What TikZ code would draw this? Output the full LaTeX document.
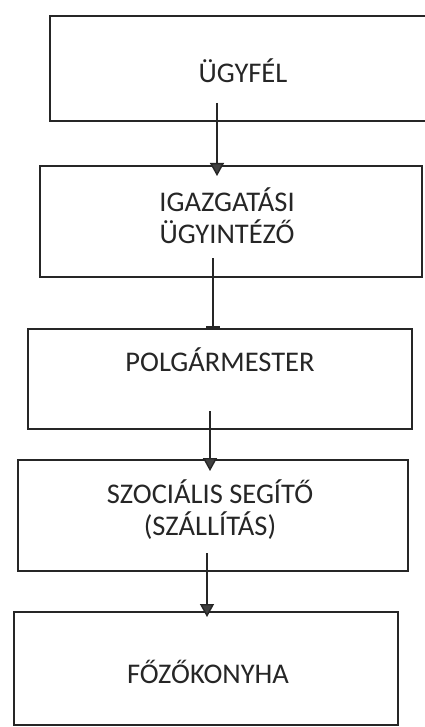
\documentclass[tikz,border=0pt]{standalone}
\usepackage{fontspec}
\setmainfont{Carlito}
\usetikzlibrary{arrows.meta,calc}
\definecolor{ink}{HTML}{262626}
\definecolor{tipc}{HTML}{404040}
\begin{document}
\begin{tikzpicture}[x=1pt,y=-1pt,
  box/.style={draw=ink,line width=1.8pt,rectangle,inner sep=0pt,outer sep=0pt},
  txt/.style={text=ink,font=\fontsize{28.5}{32}\selectfont,align=center,inner sep=0pt},
  conn/.style={draw=ink,line width=1.4pt},
  tri/.style={conn,-{Triangle[length=13pt,width=14pt,fill=tipc]}},
  barend/.style={conn,-{Rectangle[length=4pt,width=14pt,fill=ink]}}]
\useasboundingbox (0,0) rectangle (424,727);
\fill[white] (0,0) rectangle (424,727);
% boxes
\node[box,minimum width=376pt,minimum height=105pt] (b1) at (238,68.5) {};
\node[box,minimum width=382pt,minimum height=111pt] (b2) at (231,221.5) {};
\node[box,minimum width=384pt,minimum height=100pt] (b3) at (220,379) {};
\node[box,minimum width=390pt,minimum height=111pt] (b4) at (213,515.5) {};
\node[box,minimum width=384pt,minimum height=113pt] (b5) at (206,668.5) {};
% texts (base anchor = baseline of the last line)
\node[txt,anchor=base] (t1) at (243,83) {ÜGYFÉL};
\node[txt,anchor=base] (t2) at (227,243) {IGAZGATÁSI\\ÜGYINTÉZŐ};
\node[txt,anchor=base] (t3) at (220,371) {POLGÁRMESTER};
\node[txt,anchor=base] (t4) at (210,535) {SZOCIÁLIS SEGÍTŐ\\(SZÁLLÍTÁS)};
\node[txt,anchor=base] (t5) at (208,683) {FŐZŐKONYHA};
% connector start points
\coordinate (s1) at (217,103);
\coordinate (s2) at (213,258);
\coordinate (s3) at (210,411);
\coordinate (s4) at (207,553);
% connectors
\draw[tri] (s1) -- ($(s1 |- b2.north)+(0,10)$);
\draw[barend] (s2) -- ($(s2 |- b3.north)+(0,1)$);
\draw[tri] (s3) -- ($(s3 |- b4.north)+(0,11)$);
\draw[tri] (s4) -- ($(s4 |- b5.north)+(0,5)$);
\end{tikzpicture}
\end{document}
